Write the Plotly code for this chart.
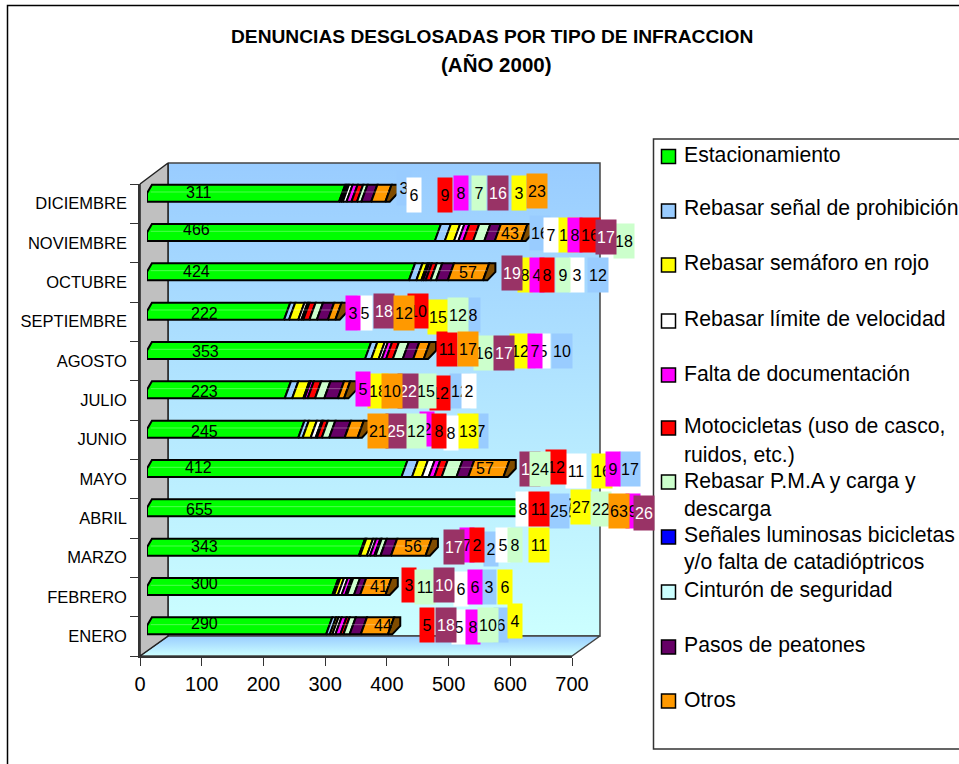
# denuncias por tipo de infraccion, barras apiladas con aspecto 3D
import plotly.graph_objects as go

W, H = 959, 764
FONT = "Liberation Sans"

MONTHS = ["ENERO", "FEBRERO", "MARZO", "ABRIL", "MAYO", "JUNIO", "JULIO", "AGOSTO",
          "SEPTIEMBRE", "OCTUBRE", "NOVIEMBRE", "DICIEMBRE"]

# valores
estacionamiento = [290, 300, 343, 655, 412, 245, 223, 353, 222, 424, 466, 311]
senal = [6, 3, 2, 25, 17, 7, 12, 10, 8, 12, 16, 3]
semaforo = [4, 6, 11, 27, 16, 13, 18, 12, 15, 8, 15, 3]
limite = [5, 6, 5, 8, 11, 8, 2, 5, 5, 3, 7, 6]
falta = [8, 6, 7, 9, 9, 2, 5, 7, 3, 4, 8, 8]
moto = [5, 3, 2, 11, 12, 8, 12, 11, 10, 8, 16, 9]
pma = [10, 11, 8, 22, 24, 12, 15, 16, 12, 9, 18, 7]
luminosas = [0] * 12
cinturon = [0] * 12
pasos = [18, 10, 17, 26, 19, 25, 22, 17, 18, 19, 17, 16]
otros = [44, 41, 56, 63, 57, 21, 10, 17, 12, 57, 43, 23]

# serie, valores, color barra, color fondo etiqueta
SERIES = [
    ("est", estacionamiento, "#00FF00", None),
    ("senal", senal, "#99CCFF", "#99CCFF"),
    ("semaforo", semaforo, "#FFFF00", "#FFFF00"),
    ("limite", limite, "#FFFFFF", "#FFFFFF"),
    ("falta", falta, "#FF00FF", "#FF00FF"),
    ("moto", moto, "#FF0000", "#FF0000"),
    ("pma", pma, "#CCFFCC", "#CCFFCC"),
    ("luminosas", luminosas, "#0000FF", "#0000FF"),
    ("cinturon", cinturon, "#CCFFFF", "#CCFFFF"),
    ("pasos", pasos, "#660066", "#993366"),
    ("otros", otros, "#FF9900", "#FF9900"),
]

# posicion de las etiquetas en pixeles de pagina (el original las tiene descolocadas)
LABEL_X = {
    "est": [204, 204, 204, 199, 198, 204, 204, 205, 204, 196, 196, 199],
    "senal": [501, 489, 491, 559, 630, 481, 460, 562, 473, 598, 540, 404],
    "semaforo": [515, 505, 539, 581, 602, 468, 378, 520, 438, 525, 568, 519],
    "limite": [459, 461, 503, 523, 576, 451, 469, 543, 365, 577, 551, 414],
    "falta": [473, 475, 467, 633, 613, 427, 363, 535, 353, 537, 575, 461],
    "moto": [427, 409, 477, 539, 556, 439, 440, 447, 418, 547, 590, 445],
    "pma": [488, 425, 515, 601, 540, 416, 426, 484, 458, 563, 624, 479],
    "pasos": [446, 444, 454, 644, 530, 396, 408, 504, 384, 512, 606, 498],
    "otros": [383, 379, 413, 619, 485, 378, 392, 468, 404, 468, 510, 537],
}
LABEL_Y = {
    "est": [623, 583, 546, 509, 467, 431, 391, 351, 313, 271, 229, 192],
    "senal": [625, 587, 549, 511, 469, 431, 391, 351, 315, 275, 233, 188],
    "semaforo": [621, 587, 545, 507, 471, 431, 391, 351, 317, 275, 235, 193],
    "limite": [627, 589, 545, 509, 471, 433, 391, 351, 313, 275, 235, 195],
    "falta": [627, 587, 545, 511, 469, 429, 389, 351, 313, 275, 235, 193],
    "moto": [625, 585, 545, 509, 467, 431, 393, 349, 311, 275, 235, 195],
    "pma": [625, 587, 545, 509, 469, 431, 391, 353, 315, 275, 241, 193],
    "pasos": [625, 585, 547, 513, 469, 431, 391, 353, 311, 273, 237, 193],
    "otros": [625, 586, 546, 511, 468, 431, 391, 349, 313, 272, 233, 191],
}
# en estos "otros" la etiqueta va sobre la barra, sin caja
OTROS_SIN_CAJA = [0, 1, 2, 4, 9, 10]
# la etiqueta de pasos de mayo queda debajo de la de P.M.A
PRIMERO = [("pasos", 4)]

LEGEND_TEXT = [
    ("Estacionamiento", 154), ("Rebasar señal de prohibición", 208), ("Rebasar semáforo en rojo", 263),
    ("Rebasar límite de velocidad", 318), ("Falta de documentación", 373), ("Motocicletas (uso de casco,", 426),
    ("ruidos, etc.)", 455), ("Rebasar P.M.A y carga y", 481), ("descarga", 509),
    ("Señales luminosas bicicletas", 534), ("y/o falta de catadióptricos", 562), ("Cinturón de seguridad", 590),
    ("Pasos de peatones", 645), ("Otros", 699),
]
LEGEND_KEY_Y = [156.5, 211, 265, 321, 375, 428, 482, 537, 592, 647, 701]


def pxx(x):
    return x / W


def pxy(y):
    return 1 - y / H


fig = go.Figure()

# paredes y suelo, en ejes x/y que son pixeles de pagina
fig.add_trace(go.Scatter(x=[168, 600, 600, 168, 168], y=[163, 163, 636, 636, 163], mode="lines", fill="toself",
                         line=dict(color="#444444", width=1.5), hoverinfo="skip",
                         fillgradient=dict(type="vertical", colorscale=[[0, "#CCFFFF"], [1, "#99CCFF"]])))
fig.add_trace(go.Scatter(x=[140, 168, 600, 572, 140], y=[656, 636, 636, 656, 656], mode="lines", fill="toself",
                         line=dict(color="#444444", width=1.5), hoverinfo="skip",
                         fillgradient=dict(type="vertical", colorscale=[[0, "#CCFFFF"], [1, "#99CCFF"]])))
fig.add_trace(go.Scatter(x=[140, 168, 168, 140, 140], y=[184, 163, 636, 656, 184], mode="lines", fill="toself",
                         fillcolor="#C0C0C0", line=dict(color="#222222", width=1.5), hoverinfo="skip"))

# eje frontal, solo para escalas y rotulos
fig.add_trace(go.Scatter(x=[0] * 12, y=MONTHS, xaxis="x2", yaxis="y2", mode="none", hoverinfo="skip"))

# barras: el tramo inferior empieza en la suma acumulada, el superior va desplazado
SL = 10
HB = 0.216
acum = [0] * 12
highlight_x, highlight_y = [], []
for name, values, color, _ in SERIES:
    xs, ys = [], []
    for i, v in enumerate(values):
        if v == 0:
            continue
        a, b = acum[i], acum[i] + v
        if name == "est":
            xs += [a, a, a + SL * 0.8, b + SL, b, a, None]
            ys += [i - HB, i, i + HB, i + HB, i - HB, i - HB, None]
        else:
            xs += [a, a + SL, b + SL, b, a, None]
            ys += [i - HB, i + HB, i + HB, i - HB, i - HB, None]
        highlight_x += [a + SL * 0.6, b + SL * 0.6, None]
        highlight_y += [i + 0.03, i + 0.03, None]
        acum[i] = b
    if xs:
        fig.add_trace(go.Scatter(x=xs, y=ys, xaxis="x3", yaxis="y3", mode="lines", fill="toself", fillcolor=color,
                                 line=dict(color="#000000", width=2), hoverinfo="skip"))

# tapa marron al final de cada barra
cap_x, cap_y = [], []
for i, t in enumerate(acum):
    cap_x += [t, t + SL, t + SL + 10, t + SL + 10, t + 7, t, None]
    cap_y += [i - HB, i + HB, i + HB, i, i - HB, i - HB, None]
fig.add_trace(go.Scatter(x=cap_x, y=cap_y, xaxis="x3", yaxis="y3", mode="lines", fill="toself", fillcolor="#804C00",
                         line=dict(color="#000000", width=2), hoverinfo="skip"))
fig.add_trace(go.Scatter(x=highlight_x, y=highlight_y, xaxis="x3", yaxis="y3", mode="lines",
                         line=dict(color="rgba(255,255,255,0.3)", width=1), hoverinfo="skip"))

# etiquetas de datos, referidas a los ejes de pixeles para no empujar los margenes
annotations = []


def add_label(name, values, bg, i):
    boxed = bg is not None and not (name == "otros" and i in OTROS_SIN_CAJA)
    ann = dict(text=str(values[i]), xref="x", yref="y", x=LABEL_X[name][i], y=LABEL_Y[name][i],
               showarrow=False, xanchor="center", yanchor="middle",
               font=dict(family=FONT, size=16, color="#FFFFFF" if name == "pasos" else "#000000"))
    if boxed:
        ann.update(bgcolor=bg, width=14 if values[i] < 10 else 20, height=34, borderpad=0)
    annotations.append(ann)


for name, values, _, bg in SERIES:
    for i in range(12):
        if (name, i) in PRIMERO:
            add_label(name, values, bg, i)
for name, values, _, bg in SERIES:
    if name in LABEL_X:
        for i in range(12):
            if (name, i) not in PRIMERO:
                add_label(name, values, bg, i)

annotations.append(dict(text="<b>DENUNCIAS DESGLOSADAS POR TIPO DE INFRACCION</b>", xref="x", yref="y",
                        x=491.5, y=36, showarrow=False, font=dict(family=FONT, size=19.2, color="#000000")))
annotations.append(dict(text="<b>(AÑO 2000)</b>", xref="x", yref="y",
                        x=496.5, y=64.5, showarrow=False, font=dict(family=FONT, size=20.5, color="#000000")))

for text, y in LEGEND_TEXT:
    annotations.append(dict(text=text, xref="x", yref="y", x=682, y=y, showarrow=False,
                            xanchor="left", yanchor="middle", font=dict(family=FONT, size=21.2, color="#000000")))

# marco exterior, caja de leyenda y sus cuadros
shapes = [
    dict(type="rect", xref="x", yref="y", x0=7.5, x1=980, y0=5.5, y1=790,
         line=dict(color="#000000", width=1.5), layer="below"),
    dict(type="rect", xref="x", yref="y", x0=653.5, x1=980, y0=139, y1=749,
         line=dict(color="#333333", width=1.5), fillcolor="#FFFFFF", layer="above"),
]
for (name, _, color, _), y in zip(SERIES, LEGEND_KEY_Y):
    shapes.append(dict(type="rect", xref="x", yref="y", x0=661.5, x1=675.5, y0=y - 7, y1=y + 7,
                       line=dict(color="#000000", width=1.5), fillcolor=color, layer="above"))

hidden = dict(visible=False, fixedrange=True, automargin=False)
fig.update_layout(
    width=W, height=H, autosize=False, margin=dict(l=0, r=0, t=0, b=0),
    paper_bgcolor="#FFFFFF", plot_bgcolor="rgba(0,0,0,0)", showlegend=False,
    font=dict(family=FONT, color="#000000"),
    xaxis=dict(domain=[0, 1], range=[0, W], anchor="y", **hidden),
    yaxis=dict(domain=[0, 1], range=[H, 0], anchor="x", **hidden),
    xaxis2=dict(domain=[pxx(140), pxx(572)], range=[0, 700], dtick=100, anchor="y2", ticks="outside", ticklen=8,
                tickcolor="#333333", showline=True, linecolor="#333333", linewidth=1.5, showgrid=False, zeroline=False,
                tickfont=dict(size=20, family=FONT, color="#000000"), ticklabelstandoff=1, fixedrange=True,
                automargin=False),
    yaxis2=dict(domain=[pxy(656), pxy(184)], type="category", categoryorder="array", categoryarray=MONTHS,
                range=[-0.5, 11.5], anchor="x2", ticks="outside", ticklen=8, tickson="boundaries",
                tickcolor="#333333", showline=True, linecolor="#333333", linewidth=1.5, showgrid=False,
                tickfont=dict(size=16.5, family=FONT, color="#000000"), ticklabelstandoff=8, fixedrange=True,
                automargin=False),
    xaxis3=dict(domain=[pxx(147), pxx(579.4)], range=[0, 700], anchor="y3", **hidden),
    yaxis3=dict(domain=[pxy(645.5), pxy(173.5)], range=[-0.5, 11.5], anchor="x3", **hidden),
    annotations=annotations, shapes=shapes,
)

fig.write_html("out.html", config=dict(displayModeBar=False),
               post_script="document.body.style.margin='0';document.body.style.overflow='hidden';")
